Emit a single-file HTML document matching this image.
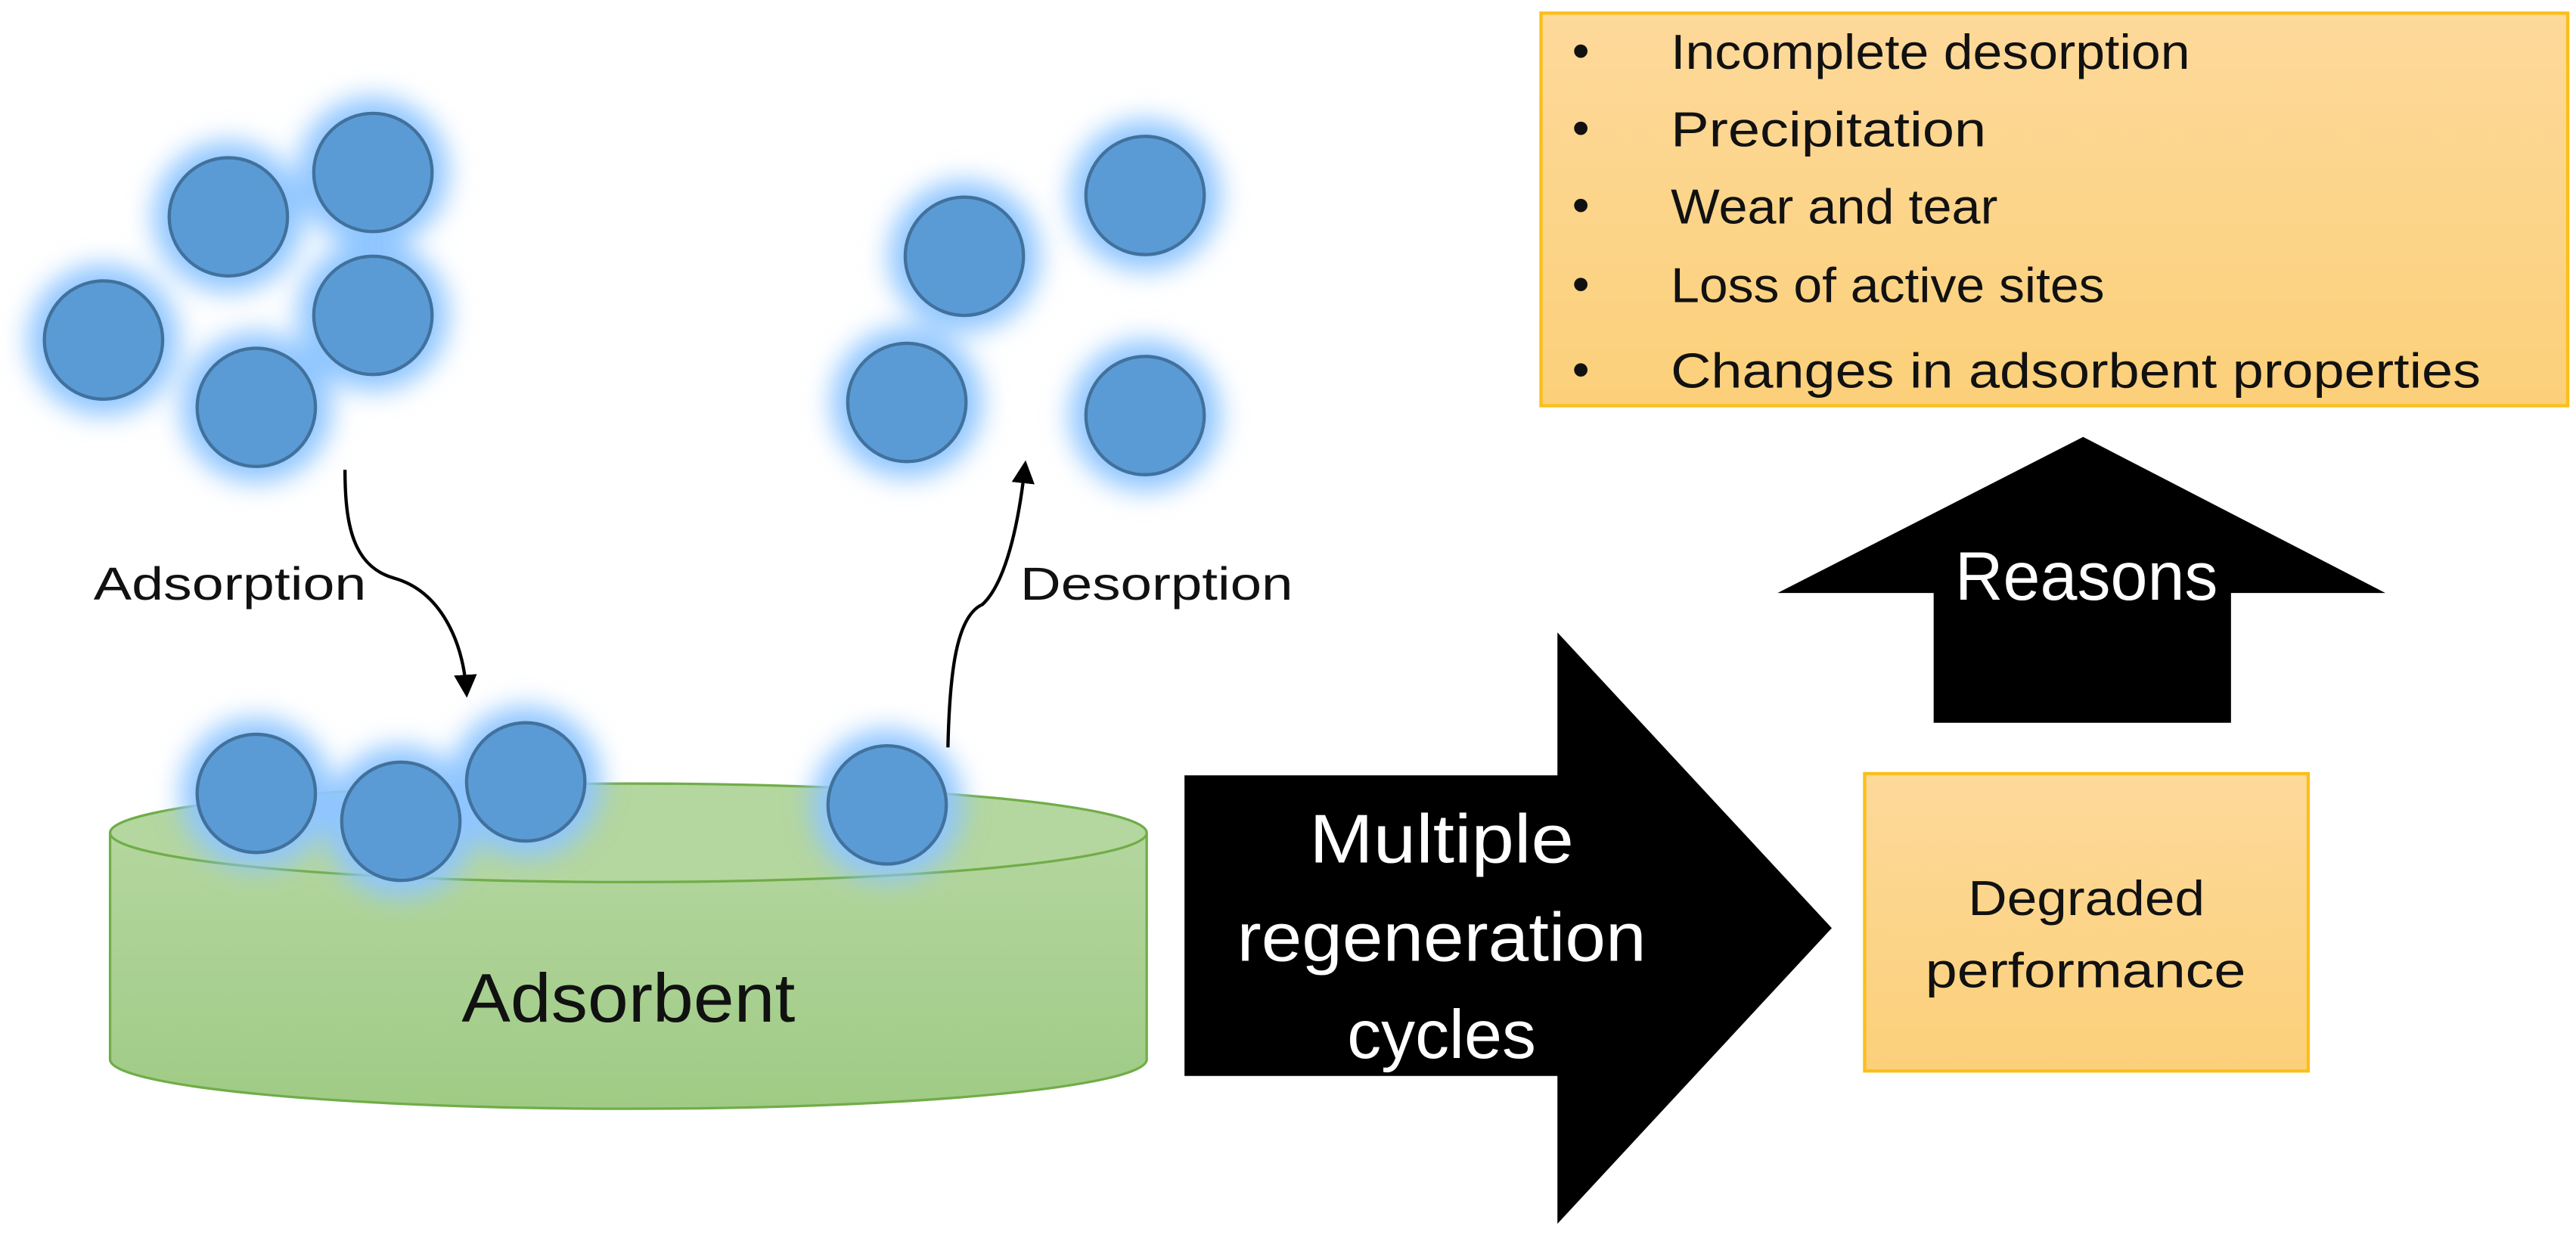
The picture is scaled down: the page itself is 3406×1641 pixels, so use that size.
<!DOCTYPE html>
<html><head><meta charset="utf-8"><style>
html,body{margin:0;padding:0;background:#fff;overflow:hidden}
svg{display:block}
text{font-family:"Liberation Sans Narrow","Liberation Sans",sans-serif}
</style></head><body>
<svg width="3406" height="1641" viewBox="0 0 1568 755.5" preserveAspectRatio="none" xmlns="http://www.w3.org/2000/svg">
<defs>
<linearGradient id="org" x1="0" y1="0" x2="0" y2="1"><stop offset="0" stop-color="#fdd99a"/><stop offset="1" stop-color="#fcd07a"/></linearGradient>
<linearGradient id="grn" x1="0" y1="0" x2="0" y2="1"><stop offset="0" stop-color="#b4d69f"/><stop offset="1" stop-color="#9fcb85"/></linearGradient>
<filter id="glow" x="-50%" y="-50%" width="200%" height="200%"><feGaussianBlur stdDeviation="8"/></filter>
<marker id="ah" viewBox="0 0 10 10" refX="8" refY="5" markerWidth="7" markerHeight="7" orient="auto"><path d="M0,0 L10,5 L0,10 z" fill="#000"/></marker>
</defs>
<rect x="938" y="8" width="625" height="239" fill="url(#org)" stroke="#fbbf1a" stroke-width="2"/>
<g font-size="30" fill="#111" lengthAdjust="spacingAndGlyphs">
<text x="957" y="41">•</text><text x="1017" y="42" textLength="316" lengthAdjust="spacingAndGlyphs">Incomplete desorption</text>
<text x="957" y="88">•</text><text x="1017" y="89" textLength="192" lengthAdjust="spacingAndGlyphs">Precipitation</text>
<text x="957" y="135">•</text><text x="1017" y="136" textLength="199" lengthAdjust="spacingAndGlyphs">Wear and tear</text>
<text x="957" y="183">•</text><text x="1017" y="184" textLength="264" lengthAdjust="spacingAndGlyphs">Loss of active sites</text>
<text x="957" y="235">•</text><text x="1017" y="236" textLength="493" lengthAdjust="spacingAndGlyphs">Changes in adsorbent properties</text>
</g>
<polygon points="1268,266 1452,361 1358,361 1358,440 1177,440 1177,361 1082,361" fill="#000"/>
<text x="1190" y="365" font-size="42" fill="#fff" textLength="160" lengthAdjust="spacingAndGlyphs">Reasons</text>
<rect x="1135" y="471" width="270" height="181" fill="url(#org)" stroke="#fbbf1a" stroke-width="2"/>
<text x="1198" y="557" font-size="30" fill="#111" textLength="144" lengthAdjust="spacingAndGlyphs">Degraded</text>
<text x="1172" y="601" font-size="30" fill="#111" textLength="195" lengthAdjust="spacingAndGlyphs">performance</text>
<polygon points="721,472 948,472 948,385 1115,565 948,745 948,655 721,655" fill="#000"/>
<g font-size="42" fill="#fff">
<text x="797" y="525" textLength="161" lengthAdjust="spacingAndGlyphs">Multiple</text>
<text x="753" y="585" textLength="249" lengthAdjust="spacingAndGlyphs">regeneration</text>
<text x="820" y="644" textLength="115" lengthAdjust="spacingAndGlyphs">cycles</text>
</g>
<path d="M67,507 L67,645 A315.5,30 0 0 0 698,645 L698,507" fill="url(#grn)" stroke="#70ad47" stroke-width="1.5"/>
<ellipse cx="382.5" cy="507" rx="315.5" ry="30" fill="#b4d69f" stroke="#70ad47" stroke-width="1.5"/>
<text x="281" y="622" font-size="42" fill="#111" textLength="203" lengthAdjust="spacingAndGlyphs">Adsorbent</text>
<g fill="#8fc6ff" filter="url(#glow)">
<circle cx="227" cy="105" r="46"/><circle cx="139" cy="132" r="46"/><circle cx="227" cy="192" r="46"/><circle cx="63" cy="207" r="46"/><circle cx="156" cy="248" r="46"/>
<circle cx="587" cy="156" r="46"/><circle cx="697" cy="119" r="46"/><circle cx="552" cy="245" r="46"/><circle cx="697" cy="253" r="46"/>
<circle cx="156" cy="483" r="46"/><circle cx="244" cy="500" r="46"/><circle cx="320" cy="476" r="46"/><circle cx="540" cy="490" r="46"/>
</g>
<g fill="#5b9bd5" stroke="#41719c" stroke-width="2">
<circle cx="227" cy="105" r="36"/><circle cx="139" cy="132" r="36"/><circle cx="227" cy="192" r="36"/><circle cx="63" cy="207" r="36"/><circle cx="156" cy="248" r="36"/>
<circle cx="587" cy="156" r="36"/><circle cx="697" cy="119" r="36"/><circle cx="552" cy="245" r="36"/><circle cx="697" cy="253" r="36"/>
<circle cx="156" cy="483" r="36"/><circle cx="244" cy="500" r="36"/><circle cx="320" cy="476" r="36"/><circle cx="540" cy="490" r="36"/>
</g>
<path d="M210,286 C210,320 215,345 240,352 C268,360 282,390 284,422" fill="none" stroke="#000" stroke-width="2" marker-end="url(#ah)"/>
<path d="M577,455 C578,410 582,375 598,368 C612,355 620,320 624,283" fill="none" stroke="#000" stroke-width="2" marker-end="url(#ah)"/>
<text x="57" y="365" font-size="28" fill="#111" textLength="166" lengthAdjust="spacingAndGlyphs">Adsorption</text>
<text x="621" y="365" font-size="28" fill="#111" textLength="166" lengthAdjust="spacingAndGlyphs">Desorption</text>
</svg>
</body></html>
